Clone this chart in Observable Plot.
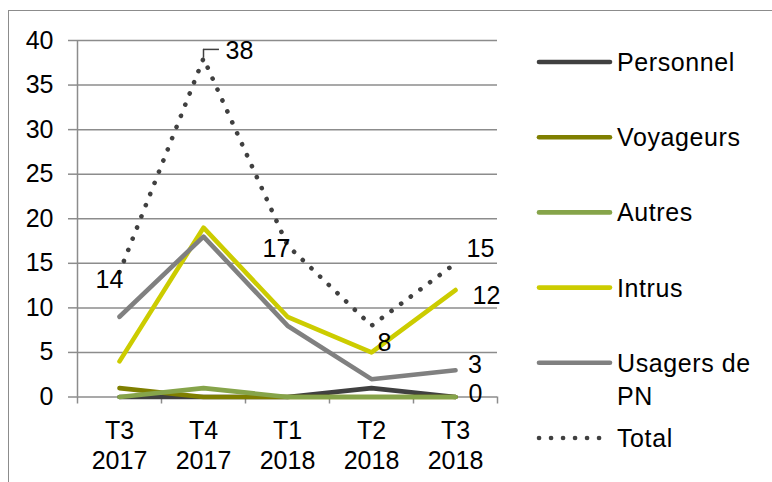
<!DOCTYPE html>
<html>
<head>
<meta charset="utf-8">
<script src="https://cdn.jsdelivr.net/npm/d3@7"></script>
<script src="https://cdn.jsdelivr.net/npm/@observablehq/plot@0.6"></script>
<style>
  html, body { margin: 0; padding: 0; background: #fff; }
  #wrap { position: relative; width: 772px; height: 482px; overflow: hidden; background: #fff;
          font-family: "Liberation Sans", Arial, sans-serif; }
  #frame { position: absolute; left: 8px; top: 10px; width: 900px; height: 900px;
           border: 1px solid #8c8c8c; box-sizing: border-box; }
  #chart, #legend { position: absolute; left: 0; top: 0; }
</style>
</head>
<body>
<div id="wrap">
  <div id="frame"></div>
  <div id="chart"></div>
  <div id="legend"></div>
</div>
<script>
// ---- Data ----
const quarters = ["T3\n2017", "T4\n2017", "T1\n2018", "T2\n2018", "T3\n2018"];
const personnel = [0, 0, 0, 1, 0];
const voyageurs = [1, 0, 0, 0, 0];
const autres = [0, 1, 0, 0, 0];
const intrus = [4, 19, 9, 5, 12];
const usagers = [9, 18, 8, 2, 3];
const total = [14, 38, 17, 8, 15];
const seriesNames = ["Personnel", "Voyageurs", "Autres", "Intrus", "Usagers de PN", "Total"];
const yTicks = [0, 5, 10, 15, 20, 25, 30, 35, 40];

// ---- Styles ----
const colors = ["#404040", "#7f7f00", "#86a44a", "#cccc00", "#808080", "#404040"];
const gridColor = "#8c8c8c";
const FONT = 25;
const LW = 4.6;

const seriesValues = [personnel, voyageurs, autres, intrus, usagers];
const idx = d3.range(quarters.length);
const rows = (vals) => idx.map(i => ({i, v: vals[i]}));

const lineMarks = seriesValues.map((vals, k) =>
  Plot.line(rows(vals), {x: "i", y: "v", stroke: colors[k], strokeWidth: LW,
    strokeLinejoin: "round", strokeLinecap: "round"}));

const textOpts = {fontSize: FONT, fill: "#000", textAnchor: "middle", lineAnchor: "middle"};
// label placement (pixel offsets from each labelled point)
const totalLabelPlacement = [
  {dx: -10, dy: 8}, {dx: 36, dy: -7}, {dx: -11, dy: 4}, {dx: 13, dy: 17}, {dx: 25, dy: -14}
];
const last = quarters.length - 1;

const chart = Plot.plot({
  width: 772,
  height: 482,
  marginLeft: 77,
  marginRight: 275,
  marginTop: 40,
  marginBottom: 85.5,
  style: {fontFamily: '"Liberation Sans", Arial, sans-serif', background: "transparent", overflow: "visible"},
  x: {type: "linear", domain: [-0.5, quarters.length - 0.5]},
  y: {domain: [0, 40]},
  marks: [
    Plot.gridY(yTicks, {stroke: gridColor, strokeOpacity: 1, strokeWidth: 1.5}),
    Plot.axisY(yTicks, {tickSize: 9, tickPadding: 15, stroke: gridColor, strokeOpacity: 1, strokeWidth: 1.5,
      fill: "#000", fontSize: FONT, label: null}),
    Plot.ruleX([-0.5], {y1: 0, y2: 40, stroke: gridColor, strokeWidth: 1.5}),
    Plot.axisX(d3.range(-0.5, quarters.length, 1), {tickSize: 7, stroke: gridColor, strokeOpacity: 1,
      strokeWidth: 1.5, tickFormat: () => "", label: null}),
    Plot.axisX(idx, {tickSize: 0, tickPadding: 21, tickFormat: i => quarters[i], fill: "#000",
      fontSize: FONT, lineHeight: 1.2, label: null}),
    ...lineMarks,
    Plot.line(rows(total), {x: "i", y: "v", stroke: colors[5], strokeWidth: LW,
      strokeDasharray: "0.1 11.9", strokeLinecap: "round"}),
    // leader line for the peak label
    Plot.ruleX([1], {x: i => i, y1: i => total[i], y2: i => total[i] + 1, stroke: "#404040", strokeWidth: 1.5}),
    Plot.ruleY([1], {y: i => total[i] + 1, x1: i => i, x2: i => i + 0.19, stroke: "#404040", strokeWidth: 1.5}),
    // total labels
    ...idx.map(i => Plot.text([i], {x: d => d, y: d => total[d], text: d => String(total[d]),
      ...textOpts, dx: totalLabelPlacement[i].dx, dy: totalLabelPlacement[i].dy})),
    // end labels
    Plot.text([last], {x: d => d, y: d => intrus[d], text: d => String(intrus[d]), ...textOpts, dx: 31, dy: 6}),
    Plot.text([last], {x: d => d, y: d => usagers[d], text: d => String(usagers[d]), ...textOpts, dx: 19.5, dy: -5}),
    Plot.text([last], {x: d => d, y: d => personnel[d], text: d => String(personnel[d]), ...textOpts, dx: 20, dy: -3})
  ]
});
document.getElementById("chart").appendChild(chart);

// ---- Legend ----
const leg = d3.select("#legend").append("svg").attr("width", 772).attr("height", 482)
  .style("font-family", '"Liberation Sans", Arial, sans-serif');
seriesNames.forEach((name, k) => {
  const y = 62 + k * 75.2;
  leg.append("line").attr("x1", 539).attr("x2", 610).attr("y1", y).attr("y2", y)
    .attr("stroke", colors[k]).attr("stroke-width", LW).attr("stroke-linecap", "round")
    .attr("stroke-dasharray", k === 5 ? "0.1 11.9" : null);
  const parts = name === "Usagers de PN" ? ["Usagers de", "PN"] : [name];
  const t = leg.append("text").attr("x", 617).attr("y", y).attr("font-size", FONT).attr("fill", "#000")
    .attr("letter-spacing", "0.6px");
  parts.forEach((p, j) => t.append("tspan").attr("x", 617).attr("dy", j === 0 ? "0.36em" : "33").text(p));
});
</script>
</body>
</html>
